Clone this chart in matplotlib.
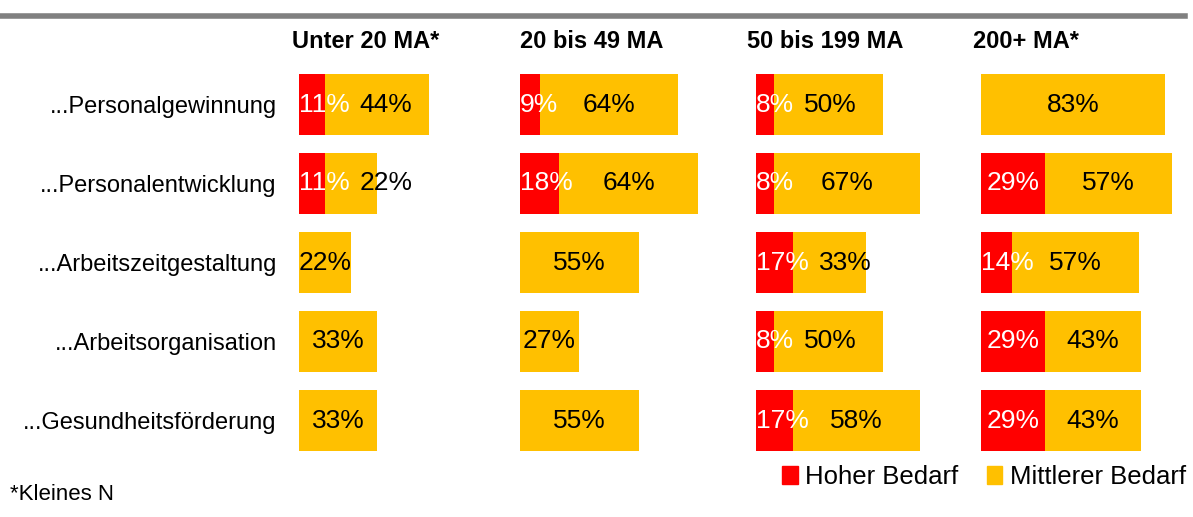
import matplotlib.pyplot as plt
from matplotlib.patches import Patch

plt.rcParams['font.family'] = ['Liberation Sans', 'DejaVu Sans']

rows = ['...Personalgewinnung', '...Personalentwicklung', '...Arbeitszeitgestaltung',
        '...Arbeitsorganisation', '...Gesundheitsförderung']
groups = ['Unter 20 MA*', '20 bis 49 MA', '50 bis 199 MA', '200+ MA*']

# percent values per company size, rows in order above
hoch = [
    [11, 11, 0, 0, 0],
    [9, 18, 0, 0, 0],
    [8, 8, 17, 8, 17],
    [0, 29, 14, 29, 29],
]
mittel = [
    [44, 22, 22, 33, 33],
    [64, 64, 55, 27, 55],
    [50, 67, 33, 50, 58],
    [83, 57, 57, 43, 43],
]

RED = '#FF0000'
YELLOW = '#FFC000'
W, H = 1193, 517

fig = plt.figure(figsize=(W / 100, H / 100), dpi=100)

# panel left edges / widths in pixels (width = 100 %)
lefts = [299, 520, 756, 981]
widths = [237, 217, 219, 222]
head_x = [292, 520, 747, 973]
top_px, bot_px = 65, 460

axes = []
for k in range(4):
    ax = fig.add_axes([lefts[k] / W, 1 - bot_px / H, widths[k] / W, (bot_px - top_px) / H])
    ypos = list(range(len(rows)))
    ax.barh(ypos, hoch[k], height=0.77, color=RED)
    ax.barh(ypos, mittel[k], left=hoch[k], height=0.77, color=YELLOW)
    ax.set_xlim(0, 100)
    ax.set_ylim(len(rows) - 0.5, -0.5)
    ax.set_xticks([])
    for s in ax.spines.values():
        s.set_visible(False)
    if k == 0:
        ax.set_yticks(ypos)
        ax.set_yticklabels(rows, fontsize=17)
        ax.tick_params(axis='y', length=0, pad=16)
    else:
        ax.set_yticks([])
    fig.text(head_x[k] / W, 1 - 41 / H, groups[k], fontsize=17, fontweight='bold',
             ha='left', va='center')
    axes.append(ax)

# value labels, pushed right when they don't fit
fig.canvas.draw()
r = fig.canvas.get_renderer()
gap = 10
for k, ax in enumerate(axes):
    inv = ax.transData.inverted()
    for i in range(len(rows)):
        h, m = hoch[k][i], mittel[k][i]
        red_right = None
        bar_left = ax.transData.transform((0, i))[0]
        if h > 0:
            t = ax.text(h / 2, i, f'{h}%', ha='center', va='center', color='white', fontsize=19)
            bb = t.get_window_extent(r)
            if bb.x0 < bar_left:
                t.set_ha('left')
                t.set_x(0)
                bb = t.get_window_extent(r)
            red_right = bb.x1
        if m > 0:
            t = ax.text(h + m / 2, i, f'{m}%', ha='center', va='center', color='black', fontsize=19)
            bb = t.get_window_extent(r)
            if red_right is not None and bb.x0 < red_right + gap:
                t.set_ha('left')
                t.set_x(inv.transform((red_right + gap, 0))[0])

# grey rule at the top
fig.add_artist(plt.Line2D([0, 1185 / W], [1 - 16 / H, 1 - 16 / H], color='#808080', lw=4))

fig.legend(handles=[Patch(color=RED, label='Hoher Bedarf'), Patch(color=YELLOW, label='Mittlerer Bedarf')],
           loc='center right', bbox_to_anchor=(1186 / W, 1 - 477 / H), ncol=2, frameon=False,
           fontsize=18.5, handlelength=0.6, handleheight=0.65, handletextpad=0.3,
           columnspacing=1.1, borderpad=0, borderaxespad=0)

fig.text(10 / W, 1 - 494 / H, '*Kleines N', fontsize=16, ha='left', va='center')

fig.savefig('out.png', dpi=100)
